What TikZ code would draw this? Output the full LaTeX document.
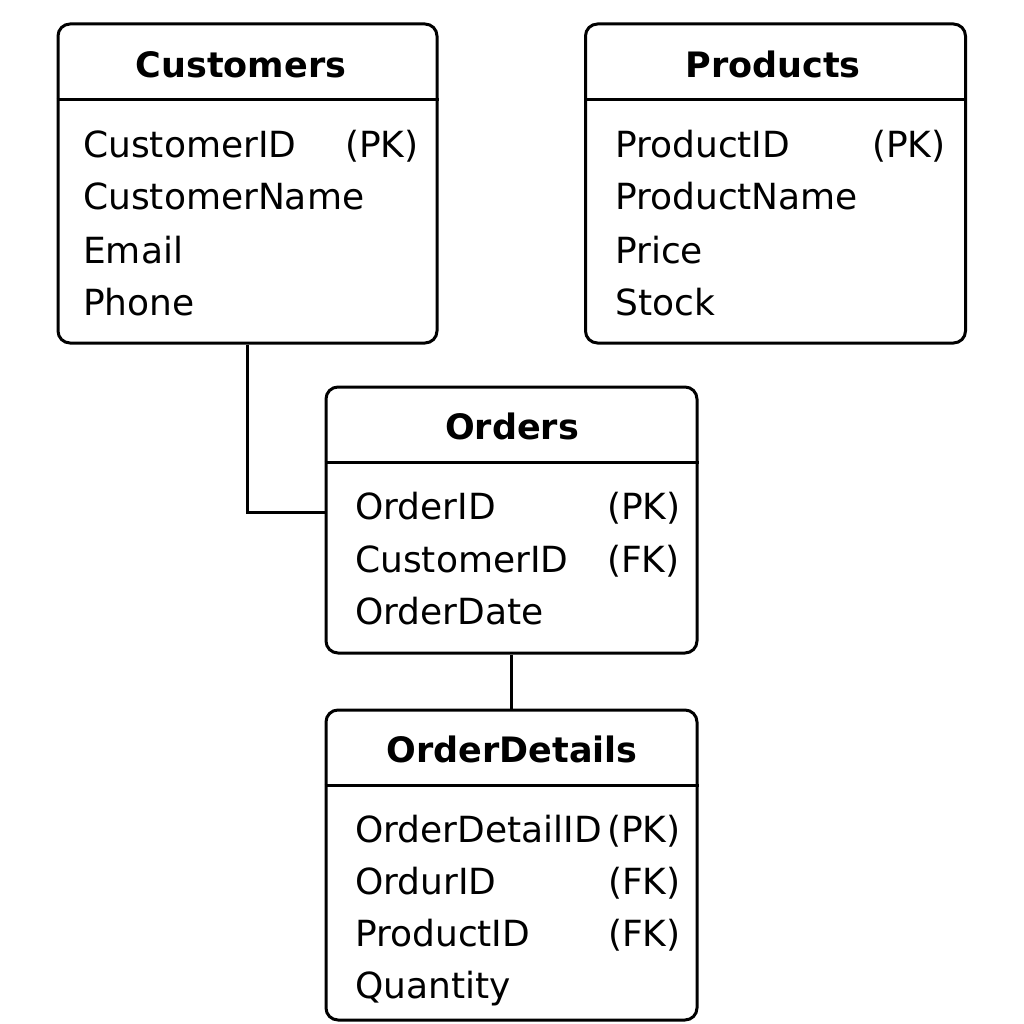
\documentclass[tikz,border=0pt]{standalone}
\usepackage{fontspec}
\setmainfont{DejaVu Sans}
\begin{document}
\begin{tikzpicture}[x=1pt,y=-1pt,
  tbl/.style={draw=black,line width=3pt,rounded corners=12pt,fill=white,inner sep=0pt},
  sep/.style={draw=black,line width=3pt},
  conn/.style={draw=black,line width=3pt},
  ttl/.style={anchor=base,inner sep=0pt,font=\fontsize{35}{40}\selectfont\bfseries},
  fld/.style={anchor=base west,inner sep=0pt,font=\fontsize{36}{44}\selectfont}]
\useasboundingbox[fill=white] (0,0) rectangle (1024,1024);

% Customers
\node[tbl,minimum width=379pt,minimum height=319pt] (cust) at (247.5,183.5) {};
\draw[sep] (cust.west |- 0,100) -- (cust.east |- 0,100);
\node[ttl] (custT) at (241,78) {Customers};
\node[fld] (c1) at (83,158) {CustomerID};
\node[fld] (c1k) at (345,158) {(PK)};
\node[fld] (c2) at (83,210) {CustomerName};
\node[fld] (c3) at (83,263) {Email};
\node[fld] (c4) at (83,315) {Phone};

% Products
\node[tbl,minimum width=380pt,minimum height=319pt] (prod) at (775.5,183.5) {};
\draw[sep] (prod.west |- 0,100) -- (prod.east |- 0,100);
\node[ttl] (prodT) at (773,78) {Products};
\node[fld] (p1) at (615,158) {ProductID};
\node[fld] (p1k) at (872,158) {(PK)};
\node[fld] (p2) at (615,210) {ProductName};
\node[fld] (p3) at (615,263) {Price};
\node[fld] (p4) at (615,315) {Stock};

% Orders
\node[tbl,minimum width=371pt,minimum height=266pt] (ord) at (511.5,520) {};
\draw[sep] (ord.west |- 0,462) -- (ord.east |- 0,462);
\node[ttl] (ordT) at (512,439) {Orders};
\node[fld] (o1) at (355,519) {OrderID};
\node[fld] (o1k) at (607,519) {(PK)};
\node[fld] (o2) at (355,572) {CustomerID};
\node[fld] (o2k) at (607,572) {(FK)};
\node[fld] (o3) at (355,624) {OrderDate};

% OrderDetails
\node[tbl,minimum width=371pt,minimum height=310pt] (det) at (511.5,865) {};
\draw[sep] (det.west |- 0,785) -- (det.east |- 0,785);
\node[ttl] (detT) at (512,762) {OrderDetails};
\node[fld] (d1) at (355,842) {OrderDetailID};
\node[fld] (d1k) at (607,842) {(PK)};
\node[fld] (d2) at (355,894) {OrdurID};
\node[fld] (d2k) at (608,894) {(FK)};
\node[fld] (d3) at (355,946) {ProductID};
\node[fld] (d3k) at (608,946) {(FK)};
\node[fld] (d4) at (355,998) {Quantity};

% connectors
\coordinate (j) at (326,512);
\draw[conn] (cust.south) |- (j);
\draw[conn] (ord.south) -- (det.north);
\end{tikzpicture}
\end{document}
